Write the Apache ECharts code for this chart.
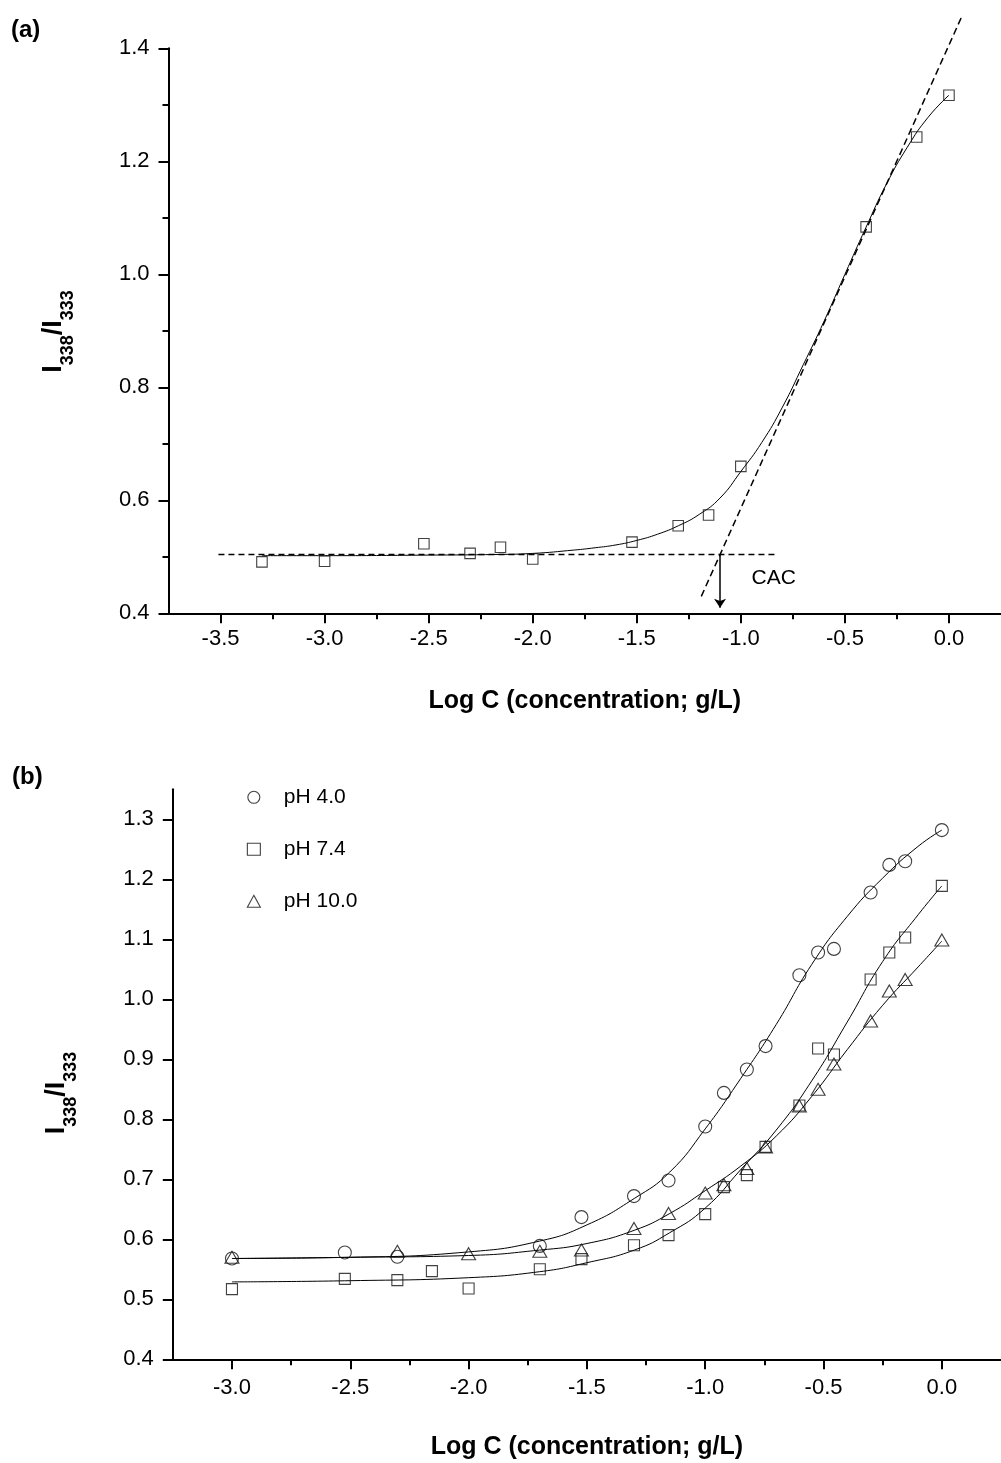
<!DOCTYPE html>
<html><head><meta charset="utf-8"><title>CAC chart</title>
<script src="https://cdn.jsdelivr.net/npm/echarts@6/dist/echarts.min.js"></script>
<style>html,body{margin:0;padding:0;background:#fff}#c{width:1001px;height:1463px}</style>
</head><body><div id="c"></div>
<script>
const FONT = '"Liberation Sans", Arial, Helvetica, sans-serif';

// ---------- Panel (a) ----------
const logCA   = [-3.301, -3.0, -2.523, -2.301, -2.155, -2.0, -1.523, -1.301, -1.155, -1.0, -0.398, -0.155, 0.0];
const ratioA  = [0.491, 0.492, 0.523, 0.506, 0.517, 0.496, 0.526, 0.555, 0.574, 0.660, 1.084, 1.243, 1.317];
const fitAx   = [-3.30, -3.00, -2.50, -2.20, -2.00, -1.80, -1.70, -1.60, -1.50, -1.40, -1.30, -1.20, -1.10, -1.00, -0.90, -0.80, -0.70, -0.60, -0.50, -0.40, -0.30, -0.20, -0.10, 0.00];
const fitAy   = [0.502, 0.502, 0.503, 0.504, 0.506, 0.512, 0.516, 0.521, 0.529, 0.540, 0.555, 0.575, 0.604, 0.651, 0.702, 0.765, 0.840, 0.917, 1.000, 1.082, 1.160, 1.225, 1.278, 1.317];
const baseAx  = [-3.51, -0.82];
const baseAy  = [0.504, 0.504];
const tanAx   = [-1.19, 0.06];
const tanAy   = [0.430, 1.455];
const cacX    = -1.10;
const cacY    = [0.504, 0.41];
const xMajorA = [-3.5, -3.0, -2.5, -2.0, -1.5, -1.0, -0.5, 0.0];
const xMinorA = [-3.25, -2.75, -2.25, -1.75, -1.25, -0.75, -0.25];

// ---------- Panel (b) ----------
const logC4  = [-3.0, -2.523, -2.301, -1.699, -1.523, -1.301, -1.155, -1.0, -0.921, -0.824, -0.745, -0.602, -0.523, -0.456, -0.301, -0.222, -0.155, 0.0];
const ph4    = [0.568, 0.578, 0.571, 0.589, 0.637, 0.672, 0.698, 0.788, 0.844, 0.883, 0.922, 1.040, 1.078, 1.084, 1.178, 1.224, 1.230, 1.282];
const logC7  = [-3.0, -2.523, -2.301, -2.155, -2.0, -1.699, -1.523, -1.301, -1.155, -1.0, -0.921, -0.824, -0.745, -0.602, -0.523, -0.456, -0.301, -0.222, -0.155, 0.0];
const ph74   = [0.517, 0.534, 0.532, 0.547, 0.518, 0.550, 0.567, 0.590, 0.607, 0.642, 0.687, 0.707, 0.754, 0.823, 0.918, 0.908, 1.033, 1.078, 1.103, 1.189];
const logC10 = [-3.0, -2.301, -2.0, -1.699, -1.523, -1.301, -1.155, -1.0, -0.921, -0.824, -0.745, -0.602, -0.523, -0.456, -0.301, -0.222, -0.155, 0.0];
const ph10   = [0.570, 0.580, 0.576, 0.580, 0.582, 0.618, 0.643, 0.677, 0.691, 0.718, 0.754, 0.822, 0.850, 0.892, 0.964, 1.014, 1.033, 1.099];

const fitBx  = [-3.00, -2.50, -2.00, -1.70, -1.50, -1.30, -1.15, -1.00, -0.85, -0.70, -0.55, -0.40, -0.25, -0.10, 0.00];
const fit4y  = [0.568, 0.570, 0.579, 0.597, 0.624, 0.668, 0.712, 0.784, 0.868, 0.958, 1.058, 1.138, 1.202, 1.255, 1.282];
const fit7y  = [0.529, 0.531, 0.536, 0.546, 0.561, 0.582, 0.611, 0.652, 0.716, 0.782, 0.864, 0.962, 1.063, 1.141, 1.189];
const fit10y = [0.568, 0.570, 0.573, 0.582, 0.593, 0.615, 0.643, 0.681, 0.722, 0.772, 0.838, 0.916, 0.990, 1.054, 1.097];

const xMajorB = [-3.0, -2.5, -2.0, -1.5, -1.0, -0.5, 0.0];
const xMinorB = [-2.75, -2.25, -1.75, -1.25, -0.75, -0.25];
const yMajorB = [0.4, 0.5, 0.6, 0.7, 0.8, 0.9, 1.0, 1.1, 1.2, 1.3];
const yMinorB = [0.45, 0.55, 0.65, 0.75, 0.85, 0.95, 1.05, 1.15, 1.25, 1.35];

const legendNames = ['pH 4.0', 'pH 7.4', 'pH 10.0'];
const xTitle = 'Log C (concentration; g/L)';

// ---------- helpers ----------
const zip = (xs, ys) => xs.map((x, i) => [x, ys[i]]);
const fmt = v => Number(v).toFixed(1);
const BLACK = '#000';
const MARK = '#111';
const hollow = { color: 'rgba(0,0,0,0)', borderColor: MARK, borderWidth: 1.1 };

function majorX(grid, min, max, ticks, margin) {
  return {
    type: 'value', gridIndex: grid, min: min, max: max, position: 'bottom',
    axisLine: { show: true, onZero: false, lineStyle: { color: BLACK, width: 2 } },
    axisTick: { show: true, customValues: ticks, length: 10, lineStyle: { color: BLACK, width: 2 } },
    axisLabel: { customValues: ticks, formatter: fmt, fontSize: 22, fontFamily: FONT, color: BLACK, margin: margin },
    splitLine: { show: false },
    name: xTitle, nameLocation: 'middle', nameGap: 75,
    nameTextStyle: { fontSize: 25, fontWeight: 'bold', fontFamily: FONT, color: BLACK }
  };
}
function minorX(grid, min, max, ticks) {
  return {
    type: 'value', gridIndex: grid, min: min, max: max, position: 'bottom',
    axisLine: { show: false, onZero: false },
    axisTick: { show: true, customValues: ticks, length: 6, lineStyle: { color: BLACK, width: 2 } },
    axisLabel: { show: false }, splitLine: { show: false }
  };
}

const subRich = {
  m: { fontSize: 27, fontWeight: 'bold', fontFamily: FONT, lineHeight: 27, verticalAlign: 'top', color: BLACK },
  s: { fontSize: 18, fontWeight: 'bold', fontFamily: FONT, lineHeight: 18, verticalAlign: 'top', padding: [19, 0, 0, 0], color: BLACK }
};
const yTitleText = '{m|I}{s|338}{m|/I}{s|333}';

function lineSeries(name, xi, yi, data, extra) {
  return Object.assign({
    name: name, type: 'line', xAxisIndex: xi, yAxisIndex: yi, data: data,
    showSymbol: false, symbol: 'none', smooth: true,
    lineStyle: { color: BLACK, width: 1 }, silent: true, z: 2
  }, extra || {});
}
function scatterSeries(name, xi, yi, data, symbol, size) {
  return {
    name: name, type: 'scatter', xAxisIndex: xi, yAxisIndex: yi, data: data,
    symbol: symbol, symbolSize: size, itemStyle: hollow, silent: true, z: 3
  };
}

const option = {
  animation: false,
  backgroundColor: '#fff',
  textStyle: { fontFamily: FONT },
  grid: [
    { left: 168.5, top: 48.3, width: 838, height: 565 },
    { left: 172.8, top: 789.3, width: 832.7, height: 570 }
  ],
  xAxis: [
    majorX(0, -3.75, 0.25, xMajorA, 15),
    minorX(0, -3.75, 0.25, xMinorA),
    majorX(1, -3.25, 0.25, xMajorB, 18),
    minorX(1, -3.25, 0.25, xMinorB)
  ],
  yAxis: [
    {
      type: 'value', gridIndex: 0, min: 0.4, max: 1.4, interval: 0.2,
      axisLine: { show: true, onZero: false, lineStyle: { color: BLACK, width: 2 } },
      axisTick: { show: true, length: 10, lineStyle: { color: BLACK, width: 2 } },
      minorTick: { show: true, splitNumber: 2, length: 6, lineStyle: { color: BLACK, width: 2 } },
      axisLabel: { formatter: fmt, fontSize: 22, fontFamily: FONT, color: BLACK, margin: 19 },
      splitLine: { show: false }, minorSplitLine: { show: false }
    },
    {
      type: 'value', gridIndex: 1, min: 0.4, max: 1.35,
      axisLine: { show: true, onZero: false, lineStyle: { color: BLACK, width: 2 } },
      axisTick: { show: true, customValues: yMajorB, length: 10, lineStyle: { color: BLACK, width: 2 } },
      axisLabel: { customValues: yMajorB, formatter: fmt, fontSize: 22, fontFamily: FONT, color: BLACK, margin: 19 },
      splitLine: { show: false }
    },
    {
      type: 'value', gridIndex: 1, min: 0.4, max: 1.35,
      axisLine: { show: false, onZero: false },
      axisTick: { show: true, customValues: yMinorB, length: 6, lineStyle: { color: BLACK, width: 2 } },
      axisLabel: { show: false }, splitLine: { show: false }
    }
  ],
  legend: {
    orient: 'vertical', left: 246.8, top: 786.8, padding: 0, itemGap: 31,
    itemWidth: 13, itemHeight: 12, selectedMode: false,
    textStyle: { fontSize: 21, fontFamily: FONT, color: BLACK, padding: [0, 0, 0, 18.5] },
    data: [
      { name: legendNames[0], icon: 'circle', itemStyle: hollow },
      { name: legendNames[1], icon: 'rect', itemStyle: hollow },
      { name: legendNames[2], icon: 'triangle', itemStyle: hollow }
    ]
  },
  graphic: [
    { type: 'text', x: 11, y: 30, silent: true,
      style: { text: '(a)', font: 'bold 24px ' + FONT, fill: BLACK, textAlign: 'left', textVerticalAlign: 'middle', align: 'left', verticalAlign: 'middle' } },
    { type: 'text', x: 12, y: 777.5, silent: true,
      style: { text: '(b)', font: 'bold 24px ' + FONT, fill: BLACK, textAlign: 'left', textVerticalAlign: 'middle', align: 'left', verticalAlign: 'middle' } },
    { type: 'text', x: 751.5, y: 578.5, silent: true,
      style: { text: 'CAC', font: '21px ' + FONT, fill: BLACK, textAlign: 'left', textVerticalAlign: 'middle', align: 'left', verticalAlign: 'middle' } },
    { type: 'text', x: 53.6, y: 331.5, rotation: Math.PI / 2, silent: true,
      style: { text: yTitleText, rich: subRich, fill: BLACK, textAlign: 'center', textVerticalAlign: 'middle', align: 'center', verticalAlign: 'middle' } },
    { type: 'text', x: 57, y: 1093, rotation: Math.PI / 2, silent: true,
      style: { text: yTitleText, rich: subRich, fill: BLACK, textAlign: 'center', textVerticalAlign: 'middle', align: 'center', verticalAlign: 'middle' } }
  ],
  series: [
    lineSeries('fitA', 0, 0, zip(fitAx, fitAy)),
    lineSeries('baseA', 0, 0, zip(baseAx, baseAy), {
      smooth: false, lineStyle: { color: BLACK, width: 1.5, type: [6, 4] },
      markLine: {
        silent: true, symbol: ['none', 'arrow'], symbolSize: 9,
        lineStyle: { color: BLACK, width: 1.5, type: 'solid' }, label: { show: false },
        data: [[{ coord: [cacX, cacY[0]] }, { coord: [cacX, cacY[1]] }]]
      }
    }),
    lineSeries('tangentA', 0, 0, zip(tanAx, tanAy), {
      smooth: false, clip: false, lineStyle: { color: BLACK, width: 1.5, type: [7, 4] }
    }),
    scatterSeries('dataA', 0, 0, zip(logCA, ratioA), 'rect', 10.5),

    lineSeries('fit4', 2, 1, zip(fitBx, fit4y)),
    lineSeries('fit7', 2, 1, zip(fitBx, fit7y)),
    lineSeries('fit10', 2, 1, zip(fitBx, fit10y)),
    scatterSeries(legendNames[0], 2, 1, zip(logC4, ph4), 'circle', 13),
    scatterSeries(legendNames[1], 2, 1, zip(logC7, ph74), 'rect', 11),
    scatterSeries(legendNames[2], 2, 1, zip(logC10, ph10), 'triangle', [14, 12])
  ]
};

const chart = echarts.init(document.getElementById('c'), null, { renderer: 'canvas' });
chart.setOption(option);
</script>
</body></html>
